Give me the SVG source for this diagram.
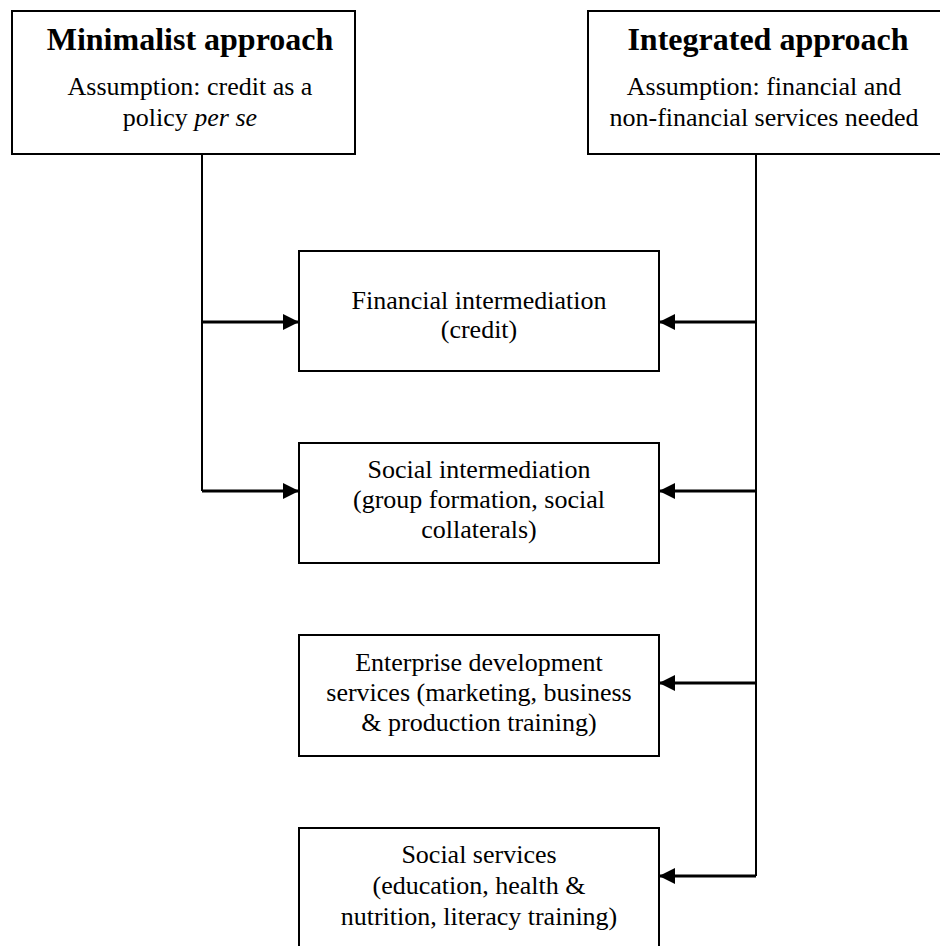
<svg xmlns="http://www.w3.org/2000/svg" width="940" height="946" viewBox="0 0 940 946">
<style>
.box{fill:#fff;stroke:#000;stroke-width:2}
.t{font-family:"Liberation Serif","Times New Roman",serif;font-size:26px;fill:#000;text-anchor:middle}
.h{font-family:"Liberation Serif","Times New Roman",serif;font-size:32px;font-weight:bold;fill:#000;text-anchor:middle}
.c{fill:none;stroke:#000;stroke-width:2}
.a{fill:none;stroke:#000;stroke-width:3}
</style>
<defs>
<marker id="ah" markerWidth="16" markerHeight="16" viewBox="0 0 16 16" refX="16" refY="8" orient="auto" markerUnits="userSpaceOnUse">
<path d="M0,0 L16,8 L0,16 Z" fill="#000"/>
</marker>
</defs>
<rect width="940" height="946" fill="#fff"/>
<g id="minimalist">
<rect class="box" x="12" y="11" width="343" height="143"/>
<text class="h" x="190" y="50">Minimalist approach</text>
<text class="t" x="190" y="95">Assumption: credit as a</text>
<text class="t" x="190" y="126">policy <tspan font-style="italic">per se</tspan></text>
</g>
<g id="integrated">
<rect class="box" x="588" y="11" width="360" height="143"/>
<text class="h" x="768" y="50">Integrated approach</text>
<text class="t" x="764" y="95">Assumption: financial and</text>
<text class="t" x="764" y="126">non-financial services needed</text>
</g>
<g id="financial">
<rect class="box" x="299" y="251" width="360" height="120"/>
<text class="t" x="479" y="309">Financial intermediation</text>
<text class="t" x="479" y="338">(credit)</text>
</g>
<g id="social-intermediation">
<rect class="box" x="299" y="443" width="360" height="120"/>
<text class="t" x="479" y="478">Social intermediation</text>
<text class="t" x="479" y="508">(group formation, social</text>
<text class="t" x="479" y="538">collaterals)</text>
</g>
<g id="enterprise">
<rect class="box" x="299" y="635" width="360" height="121"/>
<text class="t" x="479" y="671">Enterprise development</text>
<text class="t" x="479" y="701">services (marketing, business</text>
<text class="t" x="479" y="731">&amp; production training)</text>
</g>
<g id="social-services">
<rect class="box" x="299" y="828" width="360" height="130"/>
<text class="t" x="479" y="863">Social services</text>
<text class="t" x="479" y="894">(education, health &amp;</text>
<text class="t" x="479" y="925">nutrition, literacy training)</text>
</g>
<g id="connectors">
<path class="c" d="M202,154 V491"/>
<path class="c" d="M756,154 V876"/>
<path class="a" d="M202,322 H299" marker-end="url(#ah)"/>
<path class="a" d="M202,491 H299" marker-end="url(#ah)"/>
<path class="a" d="M756,322 H659" marker-end="url(#ah)"/>
<path class="a" d="M756,491 H659" marker-end="url(#ah)"/>
<path class="a" d="M756,683 H659" marker-end="url(#ah)"/>
<path class="a" d="M756,876 H659" marker-end="url(#ah)"/>
</g>
</svg>
